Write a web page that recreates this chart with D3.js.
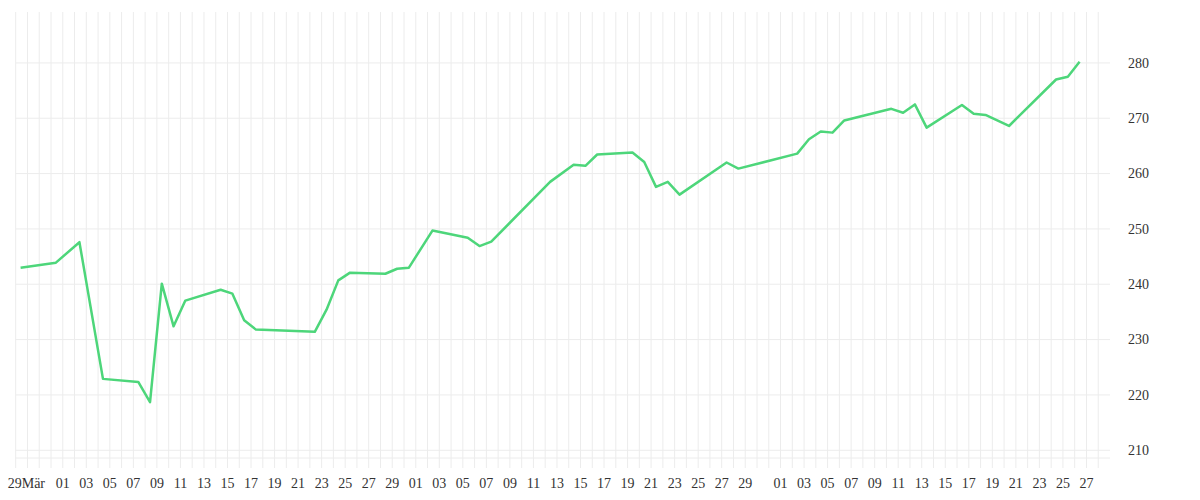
<!DOCTYPE html>
<html>
<head>
<meta charset="utf-8">
<script src="https://cdn.jsdelivr.net/npm/d3@7"></script>
<style>
  body { margin: 0; background: #fff; }
  svg text { font-family: "Liberation Serif", "DejaVu Serif", serif; font-size: 14px; fill: #333; }
</style>
</head>
<body>
<svg id="chart" width="1200" height="500"></svg>
<script>
// days since 28 Mar 2024, closing values
const dayOffsets = [0, 3, 5, 7, 10, 11, 12, 13, 14, 17, 18, 19, 20, 25, 26, 27, 28,
  31, 32, 33, 35, 38, 39, 40, 45, 47, 48, 49, 52, 53, 54, 55, 56, 60, 61,
  66, 67, 68, 69, 70, 74, 75, 76, 77, 80, 81, 82, 84, 88, 89, 90];
const prices = [243.0, 243.9, 247.6, 222.9, 222.35, 218.7, 240.1, 232.4, 237.05, 239.0, 238.3, 233.5, 231.8, 231.4, 235.4, 240.7, 242.1,
  241.9, 242.8, 243.0, 249.7, 248.4, 246.9, 247.7, 258.5, 261.6, 261.4, 263.45, 263.8, 262.1, 257.6, 258.5, 256.2, 262.0, 260.9,
  263.6, 266.2, 267.6, 267.4, 269.6, 271.7, 271.0, 272.5, 268.3, 272.4, 270.8, 270.6, 268.6, 277.0, 277.5, 280.2];
const tickDayOffsets = [0, 4, 6, 8, 10, 12, 14, 16, 18, 20, 22, 24, 26, 28, 30, 32,
  34, 36, 38, 40, 42, 44, 46, 48, 50, 52, 54, 56, 58, 60, 62,
  65, 67, 69, 71, 73, 75, 77, 79, 81, 83, 85, 87, 89, 91];
const tickLabels = ["29Mär", "01", "03", "05", "07", "09", "11", "13", "15", "17", "19", "21", "23", "25", "27", "29",
  "01", "03", "05", "07", "09", "11", "13", "15", "17", "19", "21", "23", "25", "27", "29",
  "01", "03", "05", "07", "09", "11", "13", "15", "17", "19", "21", "23", "25", "27"];
const yTicks = [210, 220, 230, 240, 250, 260, 270, 280];

const start = new Date(2024, 2, 28);
const dayAt = (n, h = 0) => { const d = d3.timeDay.offset(start, n); d.setHours(h); return d; };

const svg = d3.select('#chart');
const x = d3.scaleTime().domain([start, dayAt(93)]).range([15.7, 1110]);
const y = d3.scaleLinear().domain([208.6, 289.2]).range([458, 12]);

// vertical day grid
svg.append('g').selectAll('line')
  .data(d3.timeDay.range(start, dayAt(93)))
  .join('line')
  .attr('x1', d => x(d)).attr('x2', d => x(d))
  .attr('y1', 12).attr('y2', 468)
  .attr('stroke', '#ececec').attr('stroke-width', 1);

// horizontal grid
svg.append('g').selectAll('line')
  .data(yTicks)
  .join('line')
  .attr('x1', 15.7).attr('x2', 1110)
  .attr('y1', d => y(d)).attr('y2', d => y(d))
  .attr('stroke', '#ececec');
svg.append('line')
  .attr('x1', 15.7).attr('x2', 1110).attr('y1', 458).attr('y2', 458)
  .attr('stroke', '#ececec');

// y labels on the right
svg.append('g').selectAll('text')
  .data(yTicks)
  .join('text')
  .attr('x', 1128).attr('y', d => y(d)).attr('dy', '0.35em')
  .text(d => d);

// x labels
svg.append('g').selectAll('text')
  .data(tickDayOffsets)
  .join('text')
  .attr('x', d => x(dayAt(d)))
  .attr('y', 488)
  .attr('text-anchor', (d, i) => i === 0 ? 'start' : 'middle')
  .attr('dx', (d, i) => i === 0 ? -8 : 0)
  .text((d, i) => tickLabels[i]);

const pts = dayOffsets.map((d, i) => [dayAt(d, 10), prices[i]]);
svg.append('path')
  .datum(pts)
  .attr('fill', 'none')
  .attr('stroke', '#4dd67a')
  .attr('stroke-width', 2.5)
  .attr('stroke-linejoin', 'round')
  .attr('d', d3.line().x(d => x(d[0])).y(d => y(d[1])));
</script>
</body>
</html>
